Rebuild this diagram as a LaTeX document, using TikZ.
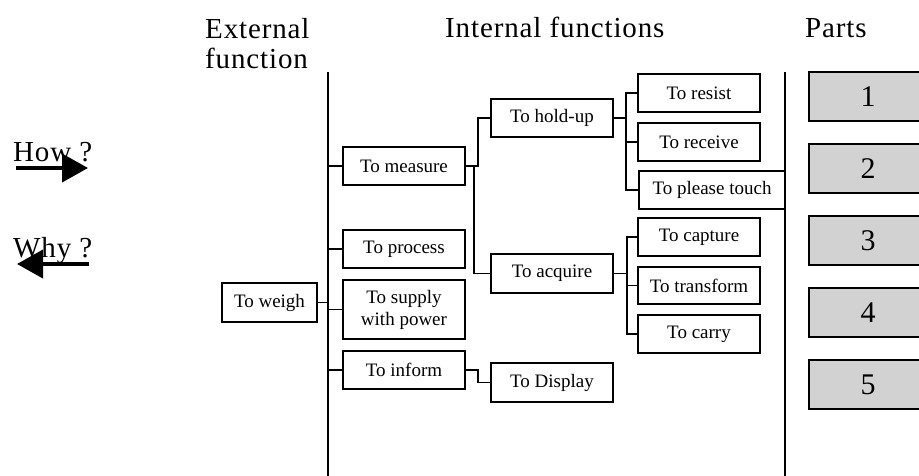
\documentclass[tikz,border=0pt]{standalone}
\usepackage{fontspec}
\setmainfont{Liberation Serif}
\newfontfamily\headfont[LetterSpace=3]{Liberation Serif}
\usetikzlibrary{calc}
\usetikzlibrary{arrows.meta}
\tikzset{
  func/.style={draw, line width=1.6pt, minimum width=122pt, minimum height=38pt, inner sep=0pt, align=center, font=\fontsize{19}{22}\selectfont},
  part/.style={draw, line width=1.8pt, fill=gray!35, minimum width=118pt, minimum height=49pt, inner sep=0pt, font=\fontsize{30}{30}\selectfont},
  head/.style={inner sep=0pt, font=\headfont\fontsize{29}{30}\selectfont, align=left},
  link/.style={line width=1.6pt},
  axis/.style={line width=2.2pt},
  bigarrow/.style={line width=4pt, -{Triangle[length=26pt,width=28pt]}}
}

\begin{document}
\begin{tikzpicture}[x=1pt,y=-1pt]
\useasboundingbox (0,0) rectangle (919,475);
\node (ext) at (205,18) [head, anchor=north west] {External\\function};
\node (int) at (445,37) [head, anchor=base west] {Internal functions};
\node (prt) at (805,37) [head, anchor=base west] {Parts};
\node (how) at (13,161) [head, anchor=base west] {How ?};
\node (why) at (13,257) [head, anchor=base west] {Why ?};
\coordinate (howA) at (16,168);
\coordinate (howB) at (88,168);
\coordinate (whyA) at (89,264);
\coordinate (whyB) at (17,264);
\draw [bigarrow] (howA) -- (howB);
\draw [bigarrow] (whyA) -- (whyB);
\coordinate (ltop) at (328,72);
\coordinate (lbot) at (328,476);
\coordinate (rtop) at (785,72);
\coordinate (rbot) at (785,476);
\draw [axis] (ltop) -- (lbot);
\draw [axis] (rtop) -- (rbot);
\node (weigh) at (269.5,302.5) [func, minimum width=95pt, minimum height=39pt] {To weigh};
\node (measure) at (404,166) [func] {To measure};
\node (process) at (404,249) [func] {To process};
\node (supply) at (404,309.5) [func, minimum height=59pt] {To supply\\with power};
\node (inform) at (404,370) [func] {To inform};
\node (holdup) at (552,118) [func] {To hold-up};
\node (acquire) at (552,273.5) [func, minimum height=39pt] {To acquire};
\node (display) at (552,382.5) [func, minimum height=39pt] {To Display};
\node (resist) at (699,93) [func] {To resist};
\node (receive) at (699,142) [func] {To receive};
\node (please) at (712,190) [func, minimum width=146pt] {To please touch};
\node (capture) at (699,237) [func] {To capture};
\node (transform) at (699,285.5) [func, minimum height=37pt] {To transform};
\node (carry) at (699,334) [func] {To carry};
\node (p1) at (868,96.5) [part] {1};
\node (p2) at (868,168.5) [part] {2};
\node (p3) at (868,240.5) [part] {3};
\node (p4) at (868,312.5) [part] {4};
\node (p5) at (868,384.5) [part] {5};
\draw [link] (weigh.east) -- (weigh.east -| ltop);
\foreach \n in {measure,process,supply,inform}
  \draw [link] (\n.west) -- (\n.west -| ltop);
\draw [link] (measure.east) -- ($(measure.east)+(12,0)$) |- (holdup.west);
\draw [link] (measure.east) -- ($(measure.east)+(8,0)$) |- (acquire.west);
\draw [link] (inform.east) -- ($(inform.east)+(12,0)$) |- (display.west);
\foreach \n in {resist,receive,please}
  \draw [link] (holdup.east) -- ($(holdup.east)+(12,0)$) |- (\n.west);
\foreach \n in {capture,transform,carry}
  \draw [link] (acquire.east) -- ($(acquire.east)+(13,0)$) |- (\n.west);
\end{tikzpicture}
\end{document}
